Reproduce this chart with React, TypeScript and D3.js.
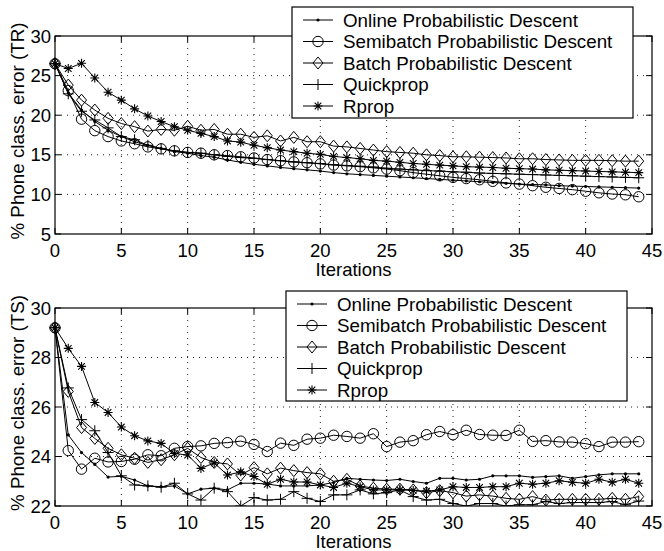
import * as d3 from 'd3'
import { useEffect, useRef } from 'react';

// x = training iteration
const iterations = d3.range(0, 45);
const seriesNames = ["Online Probabilistic Descent", "Semibatch Probabilistic Descent", "Batch Probabilistic Descent", "Quickprop", "Rprop"];
const markerTypes = ["dot", "circle", "diamond", "plus", "star"];
const xTicks = [0, 5, 10, 15, 20, 25, 30, 35, 40, 45];

// training set error (TR)
const trOnline = [26.5, 22.8, 20.65, 19.2, 18.1, 17.3, 16.65, 16.2, 15.8, 15.4, 15.2, 14.9, 14.7, 14.35, 14.05, 13.8, 13.6, 13.4, 13.25, 13.1, 12.95, 12.75, 12.6, 12.5, 12.4, 12.3, 12.2, 12.1, 12.0, 11.9, 11.8, 11.7, 11.6, 11.5, 11.4, 11.3, 11.25, 11.2, 11.1, 11.05, 11.0, 10.95, 10.9, 10.85, 10.8];
const trSemibatch = [26.5, 23.1, 19.5, 18.05, 17.3, 16.75, 16.4, 16.0, 15.75, 15.5, 15.3, 15.2, 15.0, 14.9, 14.75, 14.6, 14.4, 14.25, 14.1, 14.0, 13.85, 13.7, 13.6, 13.5, 13.35, 13.2, 13.0, 12.75, 12.55, 12.35, 12.15, 12.0, 11.85, 11.65, 11.45, 11.3, 11.1, 10.9, 10.75, 10.6, 10.4, 10.2, 10.05, 9.95, 9.7];
const trBatch = [26.5, 23.8, 21.9, 20.65, 19.6, 18.95, 18.55, 18.0, 18.2, 18.1, 18.6, 18.1, 18.2, 17.6, 17.6, 17.2, 17.4, 16.75, 17.2, 16.65, 16.65, 16.1, 16.0, 15.8, 15.6, 15.4, 15.3, 15.2, 15.0, 14.9, 14.75, 14.75, 14.7, 14.65, 14.6, 14.5, 14.5, 14.4, 14.35, 14.3, 14.3, 14.3, 14.25, 14.2, 14.2];
const trQuickprop = [26.5, 22.7, 20.5, 19.4, 18.4, 17.3, 16.9, 16.2, 15.8, 15.5, 15.3, 15.2, 15.0, 14.8, 14.65, 14.55, 14.4, 14.25, 14.1, 14.0, 13.9, 13.75, 13.65, 13.55, 13.45, 13.3, 13.2, 13.1, 13.0, 12.95, 12.85, 12.8, 12.7, 12.65, 12.6, 12.55, 12.5, 12.45, 12.4, 12.35, 12.3, 12.25, 12.2, 12.15, 12.1];
const trRprop = [26.5, 25.9, 26.55, 24.7, 22.9, 21.9, 20.8, 19.9, 19.2, 18.55, 18.1, 17.7, 17.3, 16.75, 16.6, 16.2, 15.9, 15.6, 15.4, 15.2, 15.05, 14.8, 14.65, 14.5, 14.3, 14.2, 14.05, 13.9, 13.8, 13.7, 13.6, 13.5, 13.45, 13.4, 13.3, 13.25, 13.2, 13.1, 13.05, 13.0, 12.95, 12.9, 12.85, 12.8, 12.75];
const trTicks = [5, 10, 15, 20, 25, 30];

// test set error (TS)
const tsOnline = [29.2, 24.87, 24.16, 23.68, 23.17, 23.2, 23.05, 22.81, 22.78, 22.81, 22.49, 22.68, 22.72, 22.65, 22.92, 22.92, 22.89, 22.81, 22.81, 22.81, 22.85, 22.95, 23.12, 23.08, 23.05, 23.03, 23.08, 22.99, 22.92, 23.12, 23.12, 23.05, 23.08, 23.22, 23.22, 23.22, 23.16, 23.19, 23.22, 23.12, 23.19, 23.26, 23.3, 23.3, 23.3];
const tsSemibatch = [29.2, 24.24, 23.49, 23.93, 23.78, 23.8, 23.89, 24.07, 24.03, 24.33, 24.4, 24.43, 24.53, 24.56, 24.62, 24.49, 24.2, 24.54, 24.45, 24.7, 24.74, 24.86, 24.81, 24.74, 24.92, 24.4, 24.58, 24.64, 24.88, 25.01, 24.88, 25.06, 24.89, 24.86, 24.85, 25.06, 24.61, 24.64, 24.59, 24.58, 24.52, 24.4, 24.58, 24.58, 24.6];
const tsBatch = [29.2, 26.63, 25.17, 24.73, 24.33, 24.07, 23.93, 23.76, 23.87, 24.07, 24.33, 23.96, 23.76, 23.7, 23.25, 23.55, 23.3, 23.53, 23.43, 23.35, 23.3, 23.0, 23.08, 22.81, 22.72, 22.68, 22.68, 22.65, 22.54, 22.62, 22.54, 22.4, 22.45, 22.4, 22.31, 22.27, 22.38, 22.24, 22.27, 22.27, 22.27, 22.27, 22.31, 22.27, 22.38];
const tsQuickprop = [29.2, 26.77, 25.49, 25.04, 24.16, 23.22, 22.85, 22.81, 22.76, 22.92, 22.49, 22.24, 22.72, 22.58, 22.0, 22.34, 22.24, 22.27, 22.58, 22.31, 22.18, 22.45, 22.45, 22.65, 22.49, 22.54, 22.65, 22.38, 22.24, 22.27, 22.1, 22.0, 22.1, 22.1, 22.0, 22.05, 22.05, 22.18, 22.1, 22.14, 22.14, 22.14, 22.18, 22.05, 22.2];
const tsRprop = [29.2, 28.37, 27.64, 26.18, 25.78, 25.19, 24.84, 24.63, 24.53, 24.12, 24.06, 23.52, 23.74, 23.25, 23.38, 23.19, 22.88, 23.08, 22.97, 22.97, 22.85, 22.75, 22.92, 22.78, 22.65, 22.65, 22.65, 22.63, 22.6, 22.65, 22.78, 22.75, 22.75, 22.78, 22.78, 22.92, 22.88, 22.92, 23.02, 22.96, 22.92, 23.08, 22.96, 23.08, 22.92];
const tsTicks = [22, 24, 26, 28, 30];

const FONT = "'Liberation Sans', Arial, Helvetica, sans-serif";

function drawMarker(g: any, type: string, x: number, y: number) {
    if (type === "dot") {
        g.append("circle").attr("cx", x).attr("cy", y).attr("r", 1.6).attr("fill", "black");
    } else if (type === "circle") {
        g.append("circle").attr("cx", x).attr("cy", y).attr("r", 5.2)
            .attr("fill", "none").attr("stroke", "black").attr("stroke-width", 1);
    } else if (type === "diamond") {
        g.append("path").attr("d", `M${x},${y - 6}L${x + 5},${y}L${x},${y + 6}L${x - 5},${y}Z`)
            .attr("fill", "none").attr("stroke", "black").attr("stroke-width", 1);
    } else if (type === "plus") {
        g.append("path").attr("d", `M${x - 5.5},${y}H${x + 5.5}M${x},${y - 5.5}V${y + 5.5}`)
            .attr("stroke", "black").attr("stroke-width", 1);
    } else {
        const s = 4.5, d = 3.3;
        g.append("path").attr("d", `M${x - s},${y}H${x + s}M${x},${y - s}V${y + s}M${x - d},${y - d}L${x + d},${y + d}M${x - d},${y + d}L${x + d},${y - d}`)
            .attr("stroke", "black").attr("stroke-width", 1.1);
    }
}

function makePanel(svg: any, p: any, idx: number) {
    const left = 55, right = 652;
    const x = d3.scaleLinear().domain([0, 45]).range([left, right]);
    const y = d3.scaleLinear().domain(p.yDomain).range([p.bottom, p.top]);
    const g = svg.append("g");

    // dotted grid
    g.selectAll(".gx").data(xTicks.slice(1, -1)).enter().append("line")
        .attr("x1", (d: number) => x(d)).attr("x2", (d: number) => x(d))
        .attr("y1", p.top).attr("y2", p.bottom)
        .attr("stroke", "#222").attr("stroke-width", 1).attr("stroke-dasharray", "1,5");
    g.selectAll(".gy").data(p.yTicks.slice(1, -1)).enter().append("line")
        .attr("x1", left).attr("x2", right)
        .attr("y1", (d: number) => y(d)).attr("y2", (d: number) => y(d))
        .attr("stroke", "#222").attr("stroke-width", 1).attr("stroke-dasharray", "1,5");

    // inner ticks on all sides
    xTicks.forEach(t => {
        g.append("line").attr("x1", x(t)).attr("x2", x(t)).attr("y1", p.bottom).attr("y2", p.bottom - 6).attr("stroke", "black");
        g.append("line").attr("x1", x(t)).attr("x2", x(t)).attr("y1", p.top).attr("y2", p.top + 6).attr("stroke", "black");
        g.append("text").attr("x", x(t)).attr("y", p.bottom + 23).attr("text-anchor", "middle")
            .attr("font-family", FONT).attr("font-size", 18.5).text(t);
    });
    p.yTicks.forEach((t: number) => {
        g.append("line").attr("x1", left).attr("x2", left + 6).attr("y1", y(t)).attr("y2", y(t)).attr("stroke", "black");
        g.append("line").attr("x1", right).attr("x2", right - 6).attr("y1", y(t)).attr("y2", y(t)).attr("stroke", "black");
        g.append("text").attr("x", left - 4).attr("y", y(t) + 6.5).attr("text-anchor", "end")
            .attr("font-family", FONT).attr("font-size", 18.5).text(t);
    });

    // series
    const clipId = "clip" + idx;
    svg.append("clipPath").attr("id", clipId).append("rect")
        .attr("x", left - 8).attr("y", p.top - 8).attr("width", right - left + 16).attr("height", p.bottom - p.top + 8);
    const plot = g.append("g").attr("clip-path", `url(#${clipId})`);
    const line = d3.line<number>().x((d, i) => x(iterations[i])).y(d => y(d));
    p.series.forEach((vals: number[], s: number) => {
        plot.append("path").datum(vals).attr("d", line)
            .attr("fill", "none").attr("stroke", "black").attr("stroke-width", 1);
        vals.forEach((v, i) => drawMarker(plot, markerTypes[s], x(iterations[i]), y(v)));
    });

    // frame
    g.append("rect").attr("x", left).attr("y", p.top).attr("width", right - left).attr("height", p.bottom - p.top)
        .attr("fill", "none").attr("stroke", "black").attr("stroke-width", 1.2);

    // axis labels
    g.append("text").attr("x", x(22.5)).attr("y", p.bottom + 42).attr("text-anchor", "middle")
        .attr("font-family", FONT).attr("font-size", 18.5).text("Iterations");
    g.append("text").attr("transform", `translate(24,${(p.top + p.bottom) / 2 - 4}) rotate(-90)`)
        .attr("text-anchor", "middle").attr("font-family", FONT).attr("font-size", 18.8).text(p.label);

    // legend
    const L = p.legend;
    const lg = g.append("g");
    lg.append("rect").attr("x", L.x).attr("y", L.y).attr("width", L.w).attr("height", L.h)
        .attr("fill", "white").attr("stroke", "black").attr("stroke-width", 1.2);
    seriesNames.forEach((name, s) => {
        const cy = L.y + 13 + s * 21.5;
        lg.append("line").attr("x1", L.x + 11).attr("x2", L.x + 41).attr("y1", cy).attr("y2", cy).attr("stroke", "black");
        drawMarker(lg, markerTypes[s], L.x + 26, cy);
        lg.append("text").attr("x", L.x + 51).attr("y", cy + 6.6)
            .attr("font-family", FONT).attr("font-size", 18.8).text(name);
    });
}

function makeChart(el: SVGSVGElement) {
    const svg = d3.select(el);
    svg.selectAll("*").remove();
    const panels = [
        { top: 36, bottom: 234, yDomain: [5, 30], yTicks: trTicks, label: "% Phone class. error (TR)",
          series: [trOnline, trSemibatch, trBatch, trQuickprop, trRprop], legend: { x: 292, y: 7, w: 341, h: 111 } },
        { top: 308, bottom: 506, yDomain: [22, 30], yTicks: tsTicks, label: "% Phone class. error (TS)",
          series: [tsOnline, tsSemibatch, tsBatch, tsQuickprop, tsRprop], legend: { x: 286, y: 291, w: 341, h: 110 } },
    ];
    panels.forEach((p, i) => makePanel(svg, p, i));
}

function App() {
    const ref = useRef<SVGSVGElement>(null);
    useEffect(() => {
        if (ref.current) makeChart(ref.current);
    });
    return (
        <svg ref={ref} width={664} height={551}
            style={{ position: 'absolute', left: 0, top: 0, background: 'white' }}>
        </svg>
    );
}

export default App;
